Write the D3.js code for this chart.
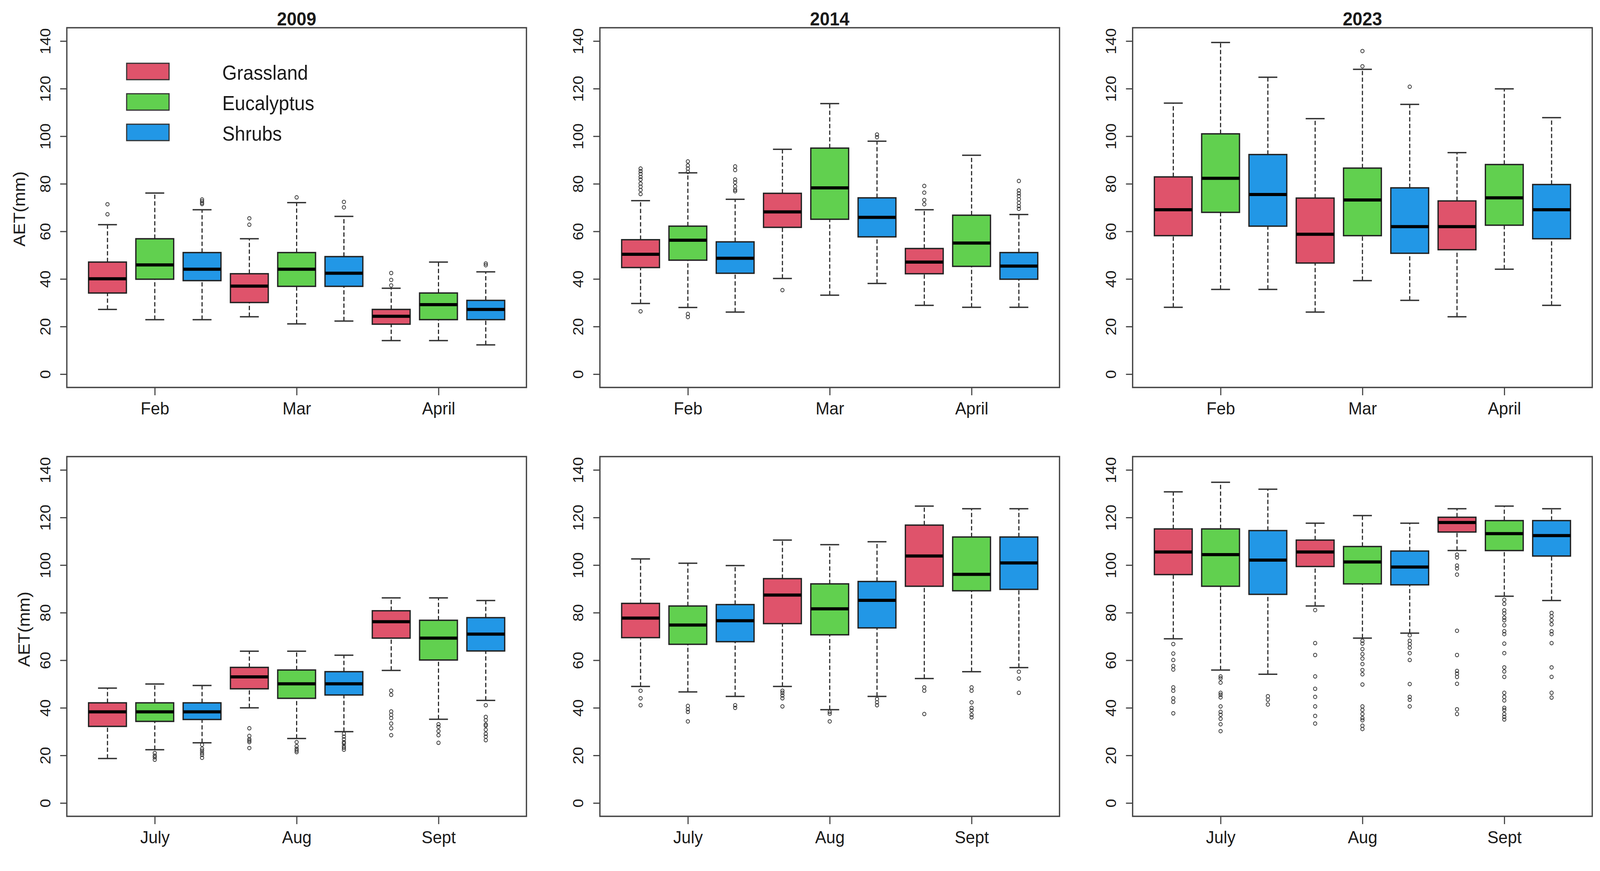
<!DOCTYPE html>
<html>
<head>
<meta charset="utf-8">
<script src="https://cdn.jsdelivr.net/npm/d3@7"></script>
<style>
  html, body { margin: 0; padding: 0; background: #fff; overflow: hidden; }
  svg { display: block; width: 100vw; height: 100vh; }
  text { font-family: "Liberation Sans", Arial, sans-serif; fill: #1a1a1a; }
</style>
</head>
<body>
<svg id="chart" viewBox="0 0 4334 2230" preserveAspectRatio="none"></svg>
<script>
// ---- data: [lower whisker, Q1, median, Q3, upper whisker]
var years = ["2009", "2014", "2023"];
var groups = ["Grassland", "Eucalyptus", "Shrubs"];
var monthsTop = ["Feb", "Mar", "April"];
var monthsBottom = ["July", "Aug", "Sept"];
var yTicks = [0, 20, 40, 60, 80, 100, 120, 140];

var stats2009a = [
  [27.2, 34.1, 40.1, 47.1, 62.8], [22.9, 39.9, 45.9, 56.9, 76.1], [22.9, 39.3, 44.1, 51.1, 69.1],
  [24.1, 30.1, 37.0, 42.2, 56.9], [21.1, 36.9, 44.1, 51.1, 72.1], [22.3, 36.9, 42.4, 49.4, 66.3],
  [14.1, 21.0, 24.3, 27.2, 36.1], [14.1, 22.9, 29.2, 34.1, 47.1], [12.3, 22.9, 27.2, 31.0, 43.0]
];
var out2009a = [
  [67.2, 71.4], [], [71.5, 72.0, 72.7, 73.4],
  [62.8, 65.5], [74.3], [70.1, 72.4],
  [37.3, 39.6, 42.5], [], [45.8, 46.5]
];

var stats2014a = [
  [29.7, 44.8, 50.4, 56.5, 72.9], [28.0, 47.9, 56.3, 62.2, 84.6], [26.1, 42.4, 48.7, 55.6, 73.5],
  [40.2, 61.7, 68.2, 76.0, 94.5], [33.2, 65.1, 78.3, 95.0, 113.7], [38.1, 57.7, 65.9, 74.1, 97.9],
  [28.9, 42.2, 47.1, 52.8, 69.1], [28.1, 45.3, 55.1, 66.8, 92.0], [28.1, 39.9, 45.4, 51.1, 67.1]
];
var out2014a = [
  [26.4, 75.7, 77.4, 78.8, 80.1, 81.8, 82.9, 84.2, 85.3, 86.4],
  [24.0, 25.3, 85.0, 86.4, 87.7, 89.4],
  [76.9, 77.5, 78.9, 80.6, 81.8, 85.8, 87.3],
  [35.3], [], [99.6, 100.7],
  [71.4, 73.2, 76.3, 79.1], [],
  [69.5, 70.6, 72.0, 73.5, 74.9, 76.0, 77.2, 81.2]
];

var stats2023a = [
  [28.1, 58.2, 69.1, 82.9, 113.9], [35.6, 68.0, 82.3, 101.0, 139.4], [35.6, 62.2, 75.5, 92.3, 124.8],
  [26.1, 46.7, 58.8, 74.0, 107.4], [39.3, 58.2, 73.2, 86.6, 128.1], [31.0, 50.8, 62.0, 78.3, 113.4],
  [24.1, 52.3, 62.0, 72.8, 93.1], [44.1, 62.6, 74.1, 88.1, 119.9], [28.9, 56.9, 69.1, 79.7, 107.8]
];
var out2023a = [[], [], [], [], [129.4, 135.8], [120.8], [], [], []];

var stats2009b = [
  [18.7, 32.2, 38.3, 42.1, 48.3], [22.4, 34.3, 38.3, 42.1, 50.0], [25.3, 35.1, 38.3, 42.1, 49.4],
  [40.0, 48.0, 53.0, 57.0, 63.8], [27.1, 44.0, 50.1, 55.9, 63.8], [30.0, 45.4, 50.1, 55.2, 62.1],
  [55.7, 69.3, 76.2, 80.8, 86.2], [35.2, 60.1, 69.3, 76.8, 86.2], [43.1, 63.9, 71.0, 77.9, 85.1]
];
var out2009b = [
  [], [18.2, 19.2, 19.9, 21.0], [19.0, 20.2, 21.0, 22.0, 22.8, 24.5],
  [23.1, 25.6, 26.2, 26.8, 28.2, 31.4], [21.4, 22.1, 22.8, 23.9, 25.6],
  [22.4, 23.2, 23.9, 25.0, 25.6, 26.8, 27.9, 29.1],
  [28.5, 31.4, 33.4, 35.7, 37.1, 38.5, 45.5, 47.2],
  [25.3, 28.5, 30.2, 32.0, 33.1],
  [26.4, 27.9, 29.1, 30.8, 32.5, 33.0, 34.8, 36.2, 41.1]
];

var stats2014b = [
  [49.0, 69.5, 77.7, 83.9, 102.6], [46.7, 66.7, 74.8, 82.8, 100.8], [44.8, 67.8, 76.6, 83.4, 99.8],
  [49.0, 75.4, 87.4, 94.3, 110.5], [39.2, 70.7, 81.6, 92.1, 108.6], [44.8, 73.6, 85.2, 93.1, 109.8],
  [52.3, 91.1, 103.8, 116.8, 124.8], [55.2, 89.2, 96.1, 111.8, 123.7], [56.9, 89.8, 100.9, 111.8, 123.7]
];
var out2014b = [
  [41.1, 44.0, 47.2], [34.3, 38.3, 39.4, 40.8], [40.0, 41.1],
  [40.6, 44.0, 45.2, 46.3, 47.2], [34.3, 37.5, 38.3], [41.1, 42.3, 43.7],
  [37.4, 47.2, 48.6], [36.0, 37.1, 38.9, 40.0, 42.3, 47.2, 48.6], [46.3, 52.3, 55.2]
];

var stats2023b = [
  [69.0, 96.0, 105.5, 115.2, 130.8], [55.9, 91.1, 104.4, 115.2, 134.8], [54.1, 87.7, 102.1, 114.5, 131.9],
  [82.8, 99.4, 105.5, 110.5, 117.6], [69.3, 92.1, 101.3, 107.8, 120.8], [71.4, 91.7, 99.2, 105.9, 117.6],
  [106.1, 113.9, 117.9, 120.1, 123.7], [86.9, 106.1, 113.2, 118.7, 124.8], [85.1, 103.8, 112.4, 118.7, 123.7]
];
var out2023b = [
  [37.7, 42.5, 44.0, 47.2, 48.6, 56.1, 57.6, 60.1, 62.8, 66.8],
  [30.2, 33.1, 35.4, 37.1, 38.3, 40.6, 44.4, 45.5, 46.3, 50.6, 52.4, 53.2],
  [41.4, 43.4, 44.9],
  [33.4, 36.6, 40.6, 44.6, 48.0, 53.2, 62.2, 67.2, 81.1],
  [31.1, 32.5, 34.8, 35.7, 37.4, 39.1, 40.6, 49.8, 54.1, 55.9, 58.4, 60.7, 62.6, 64.7, 67.0, 68.2],
  [40.6, 43.4, 44.6, 50.0, 60.1, 63.0, 65.3, 66.8, 68.2, 70.5],
  [37.4, 39.4, 50.1, 53.0, 54.4, 55.5, 62.2, 72.4, 96.0, 98.6, 99.8, 103.2, 104.4],
  [35.1, 36.2, 37.4, 39.1, 40.0, 43.1, 44.6, 46.3, 53.0, 55.3, 57.0, 63.0, 67.0, 71.0, 72.2,
   74.7, 76.8, 77.9, 79.7, 81.0, 83.7, 85.4],
  [44.3, 46.3, 53.0, 57.0, 67.2, 71.0, 72.2, 75.1, 76.8, 78.5, 79.9]
];

var palette = ["#DF536B", "#61D04F", "#2297E6"];

// ---- layout (in viewBox units, 4334 x 2230)
var svg = d3.select("#chart");
var colLeft = [181, 1625, 3068],
    rowTop = [71, 1169],
    pw = 1245,
    ph = 921;

var panels = [
  { title: years[0], months: monthsTop, stats: stats2009a, outs: out2009a, row: 0, col: 0 },
  { title: years[1], months: monthsTop, stats: stats2014a, outs: out2014a, row: 0, col: 1 },
  { title: years[2], months: monthsTop, stats: stats2023a, outs: out2023a, row: 0, col: 2 },
  { title: null, months: monthsBottom, stats: stats2009b, outs: out2009b, row: 1, col: 0 },
  { title: null, months: monthsBottom, stats: stats2014b, outs: out2014b, row: 1, col: 1 },
  { title: null, months: monthsBottom, stats: stats2023b, outs: out2023b, row: 1, col: 2 }
];

// R-style axis extents: positions 1..9, 4% padding
var x = d3.scaleLinear().domain([0.14, 9.86]).range([0, pw]);
var y = d3.scaleLinear().domain([-5.6, 145.6]).range([ph, 0]);

svg.append("rect").attr("width", 4334).attr("height", 2230).attr("fill", "#fff");

panels.forEach(function(p) {
  var g = svg.append("g")
      .attr("transform", "translate(" + colLeft[p.col] + "," + rowTop[p.row] + ")");

  var boxes = p.stats.map(function(s, i) {
    return { pos: i + 1, s: s, out: p.outs[i], color: palette[i % 3] };
  });

  var bx = g.selectAll("g.box")
    .data(boxes)
    .enter().append("g")
      .attr("class", "box");

  // whiskers (dashed)
  bx.append("line")
      .attr("x1", function(d) { return x(d.pos); })
      .attr("x2", function(d) { return x(d.pos); })
      .attr("y1", function(d) { return y(d.s[0]); })
      .attr("y2", function(d) { return y(d.s[1]); })
      .attr("stroke", "#222").attr("stroke-width", 3).attr("stroke-dasharray", "11,6");
  bx.append("line")
      .attr("x1", function(d) { return x(d.pos); })
      .attr("x2", function(d) { return x(d.pos); })
      .attr("y1", function(d) { return y(d.s[3]); })
      .attr("y2", function(d) { return y(d.s[4]); })
      .attr("stroke", "#222").attr("stroke-width", 3).attr("stroke-dasharray", "11,6");

  // staples
  [0, 4].forEach(function(k) {
    bx.append("line")
        .attr("x1", function(d) { return x(d.pos - 0.2); })
        .attr("x2", function(d) { return x(d.pos + 0.2); })
        .attr("y1", function(d) { return y(d.s[k]); })
        .attr("y2", function(d) { return y(d.s[k]); })
        .attr("stroke", "#333").attr("stroke-width", 3.5);
  });

  // boxes
  bx.append("rect")
      .attr("x", function(d) { return x(d.pos - 0.4); })
      .attr("width", function(d) { return x(d.pos + 0.4) - x(d.pos - 0.4); })
      .attr("y", function(d) { return y(d.s[3]); })
      .attr("height", function(d) { return y(d.s[1]) - y(d.s[3]); })
      .attr("fill", function(d) { return d.color; })
      .attr("stroke", "#222").attr("stroke-width", 3.5);

  // medians
  bx.append("line")
      .attr("x1", function(d) { return x(d.pos - 0.4); })
      .attr("x2", function(d) { return x(d.pos + 0.4); })
      .attr("y1", function(d) { return y(d.s[2]); })
      .attr("y2", function(d) { return y(d.s[2]); })
      .attr("stroke", "#000").attr("stroke-width", 8);

  // outliers
  bx.selectAll("circle")
    .data(function(d) { return d.out.map(function(v) { return { pos: d.pos, v: v }; }); })
    .enter().append("circle")
      .attr("cx", function(d) { return x(d.pos); })
      .attr("cy", function(d) { return y(d.v); })
      .attr("r", 4.5)
      .attr("fill", "none")
      .attr("stroke", "#333")
      .attr("stroke-width", 2);

  // frame
  g.append("rect")
      .attr("width", pw).attr("height", ph)
      .attr("fill", "none").attr("stroke", "#444").attr("stroke-width", 3.5);

  // y axis
  var ya = g.append("g")
      .call(d3.axisLeft(y).tickValues(yTicks).tickSize(18).tickPadding(0));
  ya.select(".domain").remove();
  ya.selectAll(".tick line").attr("stroke", "#444").attr("stroke-width", 3);
  ya.selectAll(".tick text")
      .attr("x", null).attr("dy", null)
      .attr("transform", "translate(-45,0) rotate(-90)")
      .attr("text-anchor", "middle")
      .style("font-size", "40px")
      .style("font-family", "'Liberation Sans', Arial, sans-serif")
      .attr("fill", "#1a1a1a");

  // x axis
  var xa = g.append("g")
      .attr("transform", "translate(0," + ph + ")")
      .call(d3.axisBottom(x).tickValues([2, 5, 8])
        .tickFormat(function(d, i) { return p.months[i]; })
        .tickSize(20).tickPadding(0));
  xa.select(".domain").remove();
  xa.selectAll(".tick line").attr("stroke", "#444").attr("stroke-width", 3);
  xa.selectAll(".tick text")
      .attr("y", 69).attr("dy", null)
      .style("font-size", "45px")
      .style("font-family", "'Liberation Sans', Arial, sans-serif")
      .attr("fill", "#1a1a1a");

  if (p.title) {
    g.append("text")
        .attr("x", pw / 2).attr("y", -6)
        .attr("text-anchor", "middle")
        .style("font-size", "48px").style("font-weight", "bold")
        .text(p.title);
  }

  if (p.col === 0) {
    var cy = p.row === 0 ? 535 - rowTop[0] : 1611 - rowTop[1];
    var bx0 = p.row === 0 ? 68 : 80;
    g.append("text")
        .attr("transform", "translate(" + (bx0 - colLeft[0]) + "," + cy + ") rotate(-90)")
        .attr("text-anchor", "middle")
        .style("font-size", "45px")
        .text("AET(mm)");
  }

  // legend in the first panel
  if (p.row === 0 && p.col === 0) {
    var lg = g.selectAll("g.legend")
      .data(groups)
      .enter().append("g")
        .attr("class", "legend")
        .attr("transform", function(d, i) { return "translate(162," + (133 + i * 78) + ")"; });
    lg.append("rect")
        .attr("x", 0).attr("y", -42).attr("width", 115).attr("height", 42)
        .attr("fill", function(d, i) { return palette[i]; })
        .attr("stroke", "#333").attr("stroke-width", 3);
    lg.append("text")
        .attr("x", 259).attr("y", 0)
        .style("font-size", "51px")
        .text(function(d) { return d; });
  }
});
</script>
</body>
</html>
